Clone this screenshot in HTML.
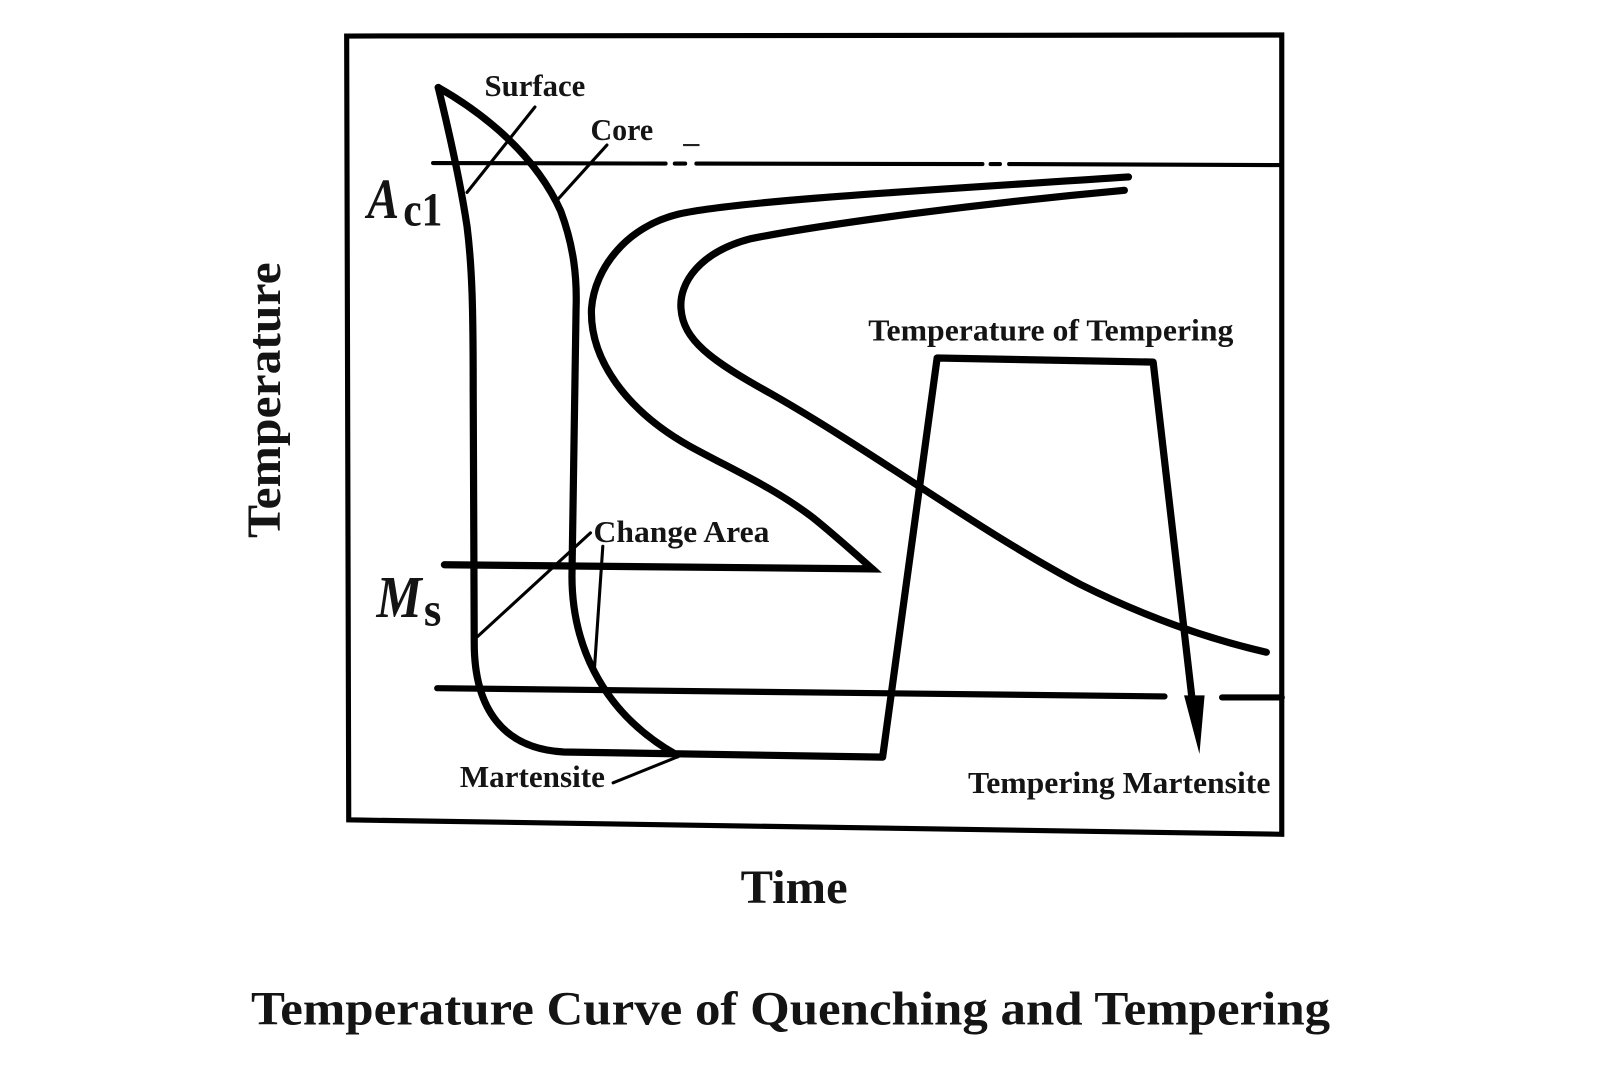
<!DOCTYPE html>
<html>
<head>
<meta charset="utf-8">
<style>
  html, body { margin: 0; padding: 0; background: #ffffff; }
  svg { display: block; }
  text { font-family: "Liberation Serif", serif; font-weight: bold; fill: #141414; }
</style>
</head>
<body>
<svg width="1613" height="1075" viewBox="0 0 1568 1045" xmlns="http://www.w3.org/2000/svg">
  <rect x="0" y="0" width="1568" height="1045" fill="#ffffff"/>

  <!-- Frame -->
  <polygon points="337,35 1246,34 1246,811 339,797" fill="none" stroke="#000" stroke-width="5" stroke-linejoin="miter"/>

  <!-- Ac1 dash-dot line -->
  <g stroke="#000" stroke-width="4" fill="none" stroke-linecap="round">
    <line x1="421" y1="158.5" x2="647" y2="159"/>
    <line x1="656" y1="159" x2="666" y2="159"/>
    <line x1="677" y1="159" x2="955" y2="159.5"/>
    <line x1="963" y1="159.5" x2="972" y2="159.5"/>
    <line x1="981" y1="159.5" x2="1246" y2="160.5"/>
  </g>
  <line x1="664" y1="141" x2="680" y2="141" stroke="#222" stroke-width="2"/>

  <!-- Mf line (bottom) -->
  <g stroke="#000" stroke-width="6" fill="none" stroke-linecap="round">
    <line x1="425" y1="669" x2="1132" y2="677"/>
    <line x1="1188" y1="678" x2="1246" y2="678"/>
  </g>

  <!-- Ms line + outer C curve -->
  <path d="M1097,172 C900,185 720,195 660,208 C610,220 578,260 575,300 C573,350 610,400 671,434 C715,458 752,474 790,503 C810,519 830,537 848,553 L432,549"
        fill="none" stroke="#000" stroke-width="7" stroke-linecap="round" stroke-linejoin="miter"/>

  <!-- Inner C curve -->
  <path d="M1093,185 C950,198 800,218 730,232 C680,245 660,275 662,300 C664,330 690,350 750,383 C850,440 950,515 1050,568 C1110,598 1170,620 1231,634"
        fill="none" stroke="#000" stroke-width="7" stroke-linecap="round"/>

  <!-- Surface curve + tempering path -->
  <path d="M426,85 C437,130 448,180 454,220 C459,260 460,300 460,380 L461,625 C461,690 490,728 548,731 L858,736 L911,348 L1121,352 L1160,690"
        fill="none" stroke="#000" stroke-width="7" stroke-linejoin="round" stroke-linecap="round"/>
  <polygon points="1151,676 1171,676 1166,733" fill="#000"/>

  <!-- Core curve -->
  <path d="M426,85 C470,110 520,150 545,205 C558,240 561,270 560,300 L556,560 C556,620 580,690 658,734"
        fill="none" stroke="#000" stroke-width="7" stroke-linecap="round" stroke-linejoin="round"/>

  <!-- Leader lines -->
  <g stroke="#000" stroke-width="3" fill="none" stroke-linecap="round">
    <line x1="520" y1="104" x2="454" y2="187"/>
    <line x1="590" y1="141" x2="543" y2="193"/>
    <line x1="574" y1="518" x2="464" y2="619"/>
    <line x1="586" y1="531" x2="578" y2="648"/>
    <line x1="596" y1="761" x2="658" y2="736"/>
  </g>

  <!-- Labels -->
  <text x="471" y="93.5" font-size="30" textLength="98" lengthAdjust="spacingAndGlyphs">Surface</text>
  <text x="574" y="136" font-size="30" textLength="61" lengthAdjust="spacingAndGlyphs">Core</text>
  <text x="844" y="331" font-size="30" textLength="355" lengthAdjust="spacingAndGlyphs">Temperature of Tempering</text>
  <text x="577" y="527" font-size="30" textLength="171" lengthAdjust="spacingAndGlyphs">Change Area</text>
  <text x="447" y="765" font-size="30" textLength="141" lengthAdjust="spacingAndGlyphs">Martensite</text>
  <text x="941" y="771" font-size="30" textLength="294" lengthAdjust="spacingAndGlyphs">Tempering Martensite</text>

  <text x="357" y="212" font-size="56" font-style="italic" textLength="31" lengthAdjust="spacingAndGlyphs">A</text>
  <text x="392" y="219" font-size="46" textLength="38" lengthAdjust="spacingAndGlyphs">c1</text>
  <text x="366" y="600" font-size="58" font-style="italic" textLength="44" lengthAdjust="spacingAndGlyphs">M</text>
  <text x="412" y="608" font-size="46" textLength="17" lengthAdjust="spacingAndGlyphs">s</text>

  <text transform="translate(272,523) rotate(-90)" x="0" y="0" font-size="46" textLength="268" lengthAdjust="spacingAndGlyphs">Temperature</text>
  <text x="720" y="878" font-size="46" textLength="104" lengthAdjust="spacingAndGlyphs">Time</text>
  <text x="244" y="996" font-size="46" textLength="1049" lengthAdjust="spacingAndGlyphs">Temperature Curve of Quenching and Tempering</text>
</svg>
</body>
</html>
